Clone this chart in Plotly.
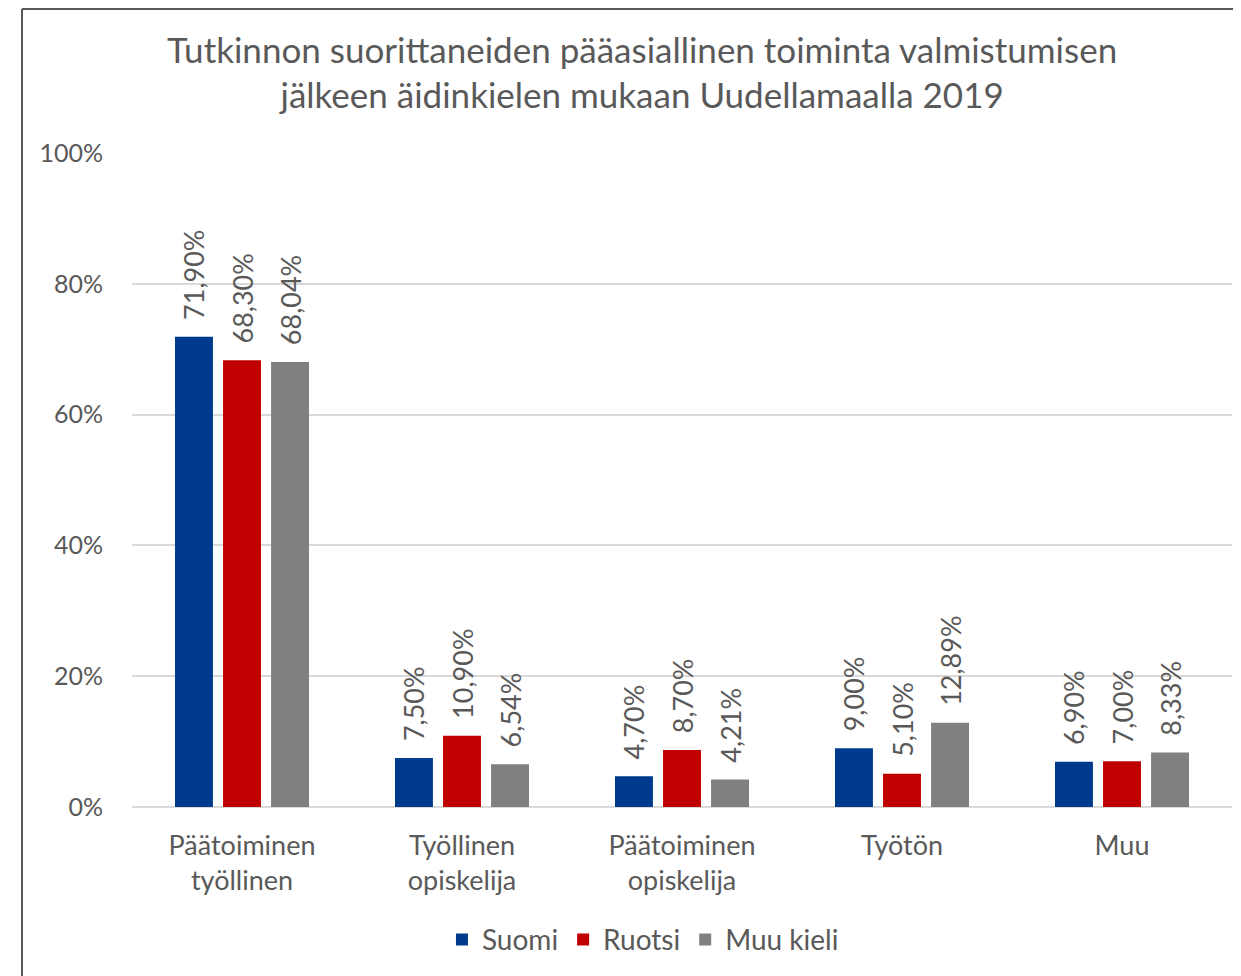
import plotly.graph_objects as go

categories = ["Päätoiminen<br>työllinen", "Työllinen<br>opiskelija", "Päätoiminen<br>opiskelija", "Työtön", "Muu"]
suomi = [71.90, 7.50, 4.70, 9.00, 6.90]
ruotsi = [68.30, 10.90, 8.70, 5.10, 7.00]
muu_kieli = [68.04, 6.54, 4.21, 12.89, 8.33]
series_names = ["Suomi", "Ruotsi", "Muu kieli"]
colors = ["#003A8C", "#C00000", "#808080"]

FONT = "Lato"
TXT = "#595959"

def fmt(v):
    return "\u00a0\u00a0" + f"{v:.2f}".replace(".", ",") + "%"

fig = go.Figure()
for name, vals, col in zip(series_names, [suomi, ruotsi, muu_kieli], colors):
    fig.add_trace(go.Bar(
        x=categories, y=vals, name=name,
        marker=dict(color=col, line=dict(width=0)),
        text=[fmt(v) for v in vals],
        textposition="outside", textangle=-90,
        constraintext="none", cliponaxis=False,
        textfont=dict(family=FONT, size=27, color=TXT),
    ))

fig.update_layout(
    width=1241, height=976,
    paper_bgcolor="white", plot_bgcolor="white",
    margin=dict(l=124, r=17, t=145, b=177),
    barmode="group", bargap=0.345, bargroupgap=0.21,
    title=dict(
        text="Tutkinnon suorittaneiden pääasiallinen toiminta valmistumisen<br>jälkeen äidinkielen mukaan Uudellamaalla 2019",
        x=0.511, xanchor="center", y=0.944, yanchor="middle",
        font=dict(family=FONT, size=35, color=TXT),
    ),
    font=dict(family=FONT, size=27, color=TXT),
    legend=dict(orientation="h", x=0.4645, xanchor="center", y=-0.203, yanchor="middle",
                font=dict(family=FONT, size=28, color=TXT), itemwidth=30, traceorder="normal"),
    showlegend=True,
)
fig.update_yaxes(range=[0, 100], tickvals=[0, 20, 40, 60, 80, 100],
                 ticktext=["0%", "20%", "40%", "60%", "80%", "100%"],
                 showgrid=True, gridcolor="#D9D9D9", gridwidth=2,
                 zeroline=True, zerolinecolor="#D9D9D9", zerolinewidth=2,
                 showline=False, ticks="", ticklabelstandoff=28,
                 tickfont=dict(family=FONT, size=25, color=TXT))
fig.update_xaxes(showline=False, ticks="", tickfont=dict(family=FONT, size=27, color=TXT),
                 ticklabelstandoff=20)

fig.add_shape(type="line", xref="paper", yref="paper", x0=-0.1, x1=-0.1, y0=-0.3, y1=1.2202,
              line=dict(color="#595959", width=2))
fig.add_shape(type="line", xref="paper", yref="paper", x0=-0.1, x1=1.02, y0=1.2202, y1=1.2202,
              line=dict(color="#595959", width=2))

fig.write_html("out.html")
